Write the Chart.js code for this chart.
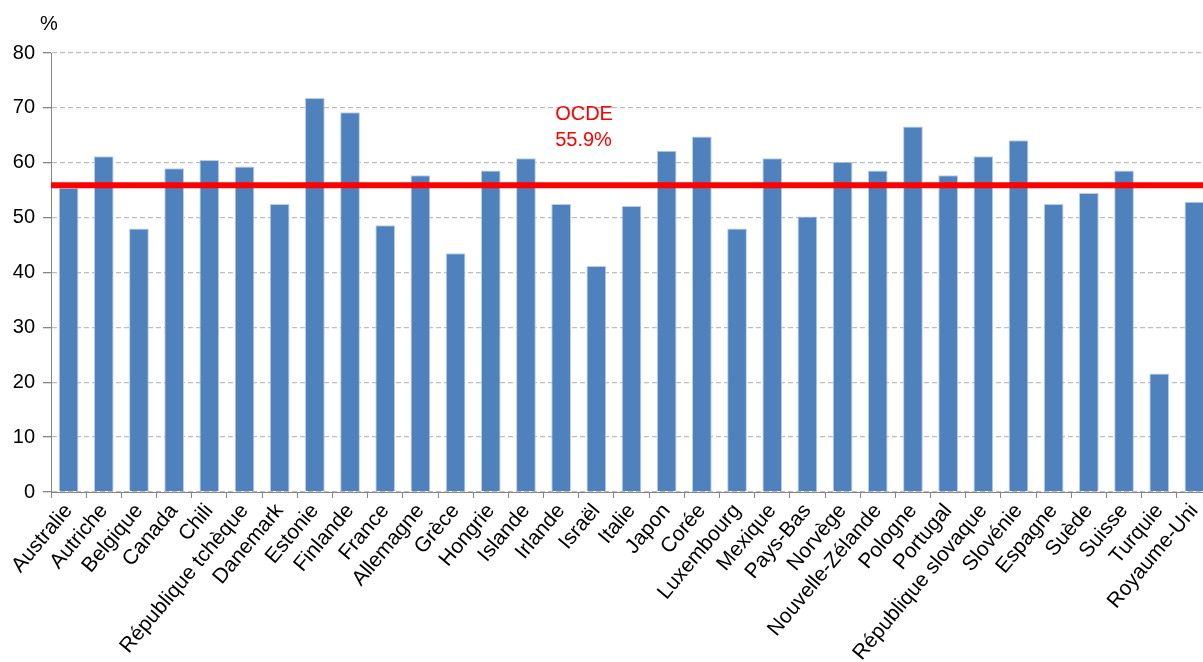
<!DOCTYPE html>
<html lang="fr">
<head>
<meta charset="utf-8">
<title>Taux par pays</title>
<script src="https://cdn.jsdelivr.net/npm/chart.js@4/dist/chart.umd.min.js"></script>
<style>
  html, body { margin: 0; padding: 0; background: #fff; overflow: hidden; }
  #wrap { position: relative; width: 1222px; height: 662px; }
</style>
</head>
<body>
<div id="wrap"><canvas id="chart"></canvas></div>
<script>
const countries = [
  "Australie", "Autriche", "Belgique", "Canada", "Chili", "République tchèque",
  "Danemark", "Estonie", "Finlande", "France", "Allemagne", "Grèce", "Hongrie",
  "Islande", "Irlande", "Israël", "Italie", "Japon", "Corée", "Luxembourg",
  "Mexique", "Pays-Bas", "Norvège", "Nouvelle-Zélande", "Pologne", "Portugal",
  "République slovaque", "Slovénie", "Espagne", "Suède", "Suisse", "Turquie",
  "Royaume-Uni"
];

const shares = [
  55.4, 61.2, 48.0, 59.0, 60.5, 59.3,
  52.5, 71.8, 69.2, 48.6, 57.7, 43.5, 58.6,
  60.8, 52.5, 41.2, 52.1, 62.2, 64.8, 48.0,
  60.8, 50.2, 60.2, 58.6, 66.6, 57.7,
  61.2, 64.1, 52.5, 54.5, 58.6, 21.6,
  52.9
];

const ocdeAverage = 55.9;
const ocdeLabel = ["OCDE", "55.9%"];
const yTicks = [0, 10, 20, 30, 40, 50, 60, 70, 80];

const FONT = "'Liberation Sans', Arial, sans-serif";
const FONT_SIZE = 20;

// red OECD average line, its caption and the "%" unit above the y axis
const averageLine = {
  id: 'averageLine',
  afterDatasetsDraw(chart) {
    const {ctx, chartArea, scales: {x, y}} = chart;
    const yPos = y.getPixelForValue(ocdeAverage);
    ctx.save();
    ctx.strokeStyle = '#FF0000';
    ctx.lineWidth = 6;
    ctx.beginPath();
    ctx.moveTo(chartArea.left, yPos);
    ctx.lineTo(chartArea.right, yPos);
    ctx.stroke();

    ctx.fillStyle = '#FF0000';
    ctx.font = FONT_SIZE + 'px ' + FONT;
    ctx.textAlign = 'left';
    ctx.textBaseline = 'alphabetic';
    const lx = x.getPixelForValue(14) - 6;
    ctx.fillText(ocdeLabel[0], lx, yPos - 65);
    ctx.fillText(ocdeLabel[1], lx, yPos - 39);

    ctx.fillStyle = '#000';
    ctx.textAlign = 'center';
    ctx.fillText('%', chartArea.left - 2, chartArea.top - 23);
    ctx.restore();
  }
};

new Chart(document.getElementById('chart'), {
  type: 'bar',
  data: {
    labels: countries,
    datasets: [{
      data: shares,
      backgroundColor: '#4F81BD',
      borderColor: '#B9CDE5',
      borderWidth: 1,
      borderSkipped: 'bottom',
      categoryPercentage: 1,
      barPercentage: 0.56
    }]
  },
  options: {
    responsive: true,
    maintainAspectRatio: false,
    animation: false,
    layout: {padding: {top: 53, right: 10, left: 0, bottom: 0}},
    plugins: {
      legend: {display: false},
      tooltip: {enabled: false}
    },
    scales: {
      x: {
        grid: {
          offset: true,
          drawOnChartArea: false,
          color: '#868686',
          tickLength: 6
        },
        border: {color: '#868686', width: 1},
        ticks: {
          color: '#000',
          font: {family: FONT, size: 21},
          minRotation: 50,
          maxRotation: 50,
          autoSkip: false,
          padding: 1
        },
        afterFit: (scale) => { scale.height = 170; }
      },
      y: {
        min: 0,
        max: 80,
        afterBuildTicks: (scale) => { scale.ticks = yTicks.map(v => ({value: v})); },
        grid: {
          color: '#BDBDBD',
          lineWidth: 1.3,
          tickColor: '#868686',
          tickLength: 8,
          tickBorderDash: []
        },
        border: {color: '#868686', width: 1, dash: [5, 3]},
        ticks: {
          color: '#000',
          font: {family: FONT, size: FONT_SIZE},
          padding: 8
        },
        afterFit: (scale) => { scale.width = 51; }
      }
    }
  },
  plugins: [averageLine]
});
</script>
</body>
</html>
